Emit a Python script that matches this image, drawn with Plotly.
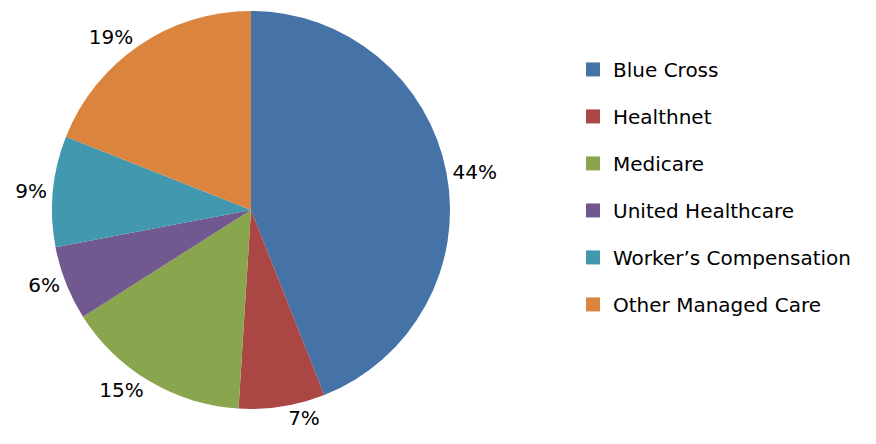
import plotly.graph_objects as go

labels = ["Blue Cross", "Healthnet", "Medicare", "United Healthcare",
          "Worker\u2019s Compensation", "Other Managed Care"]
values = [44, 7, 15, 6, 9, 19]
colors = ["#4572A7", "#AA4643", "#89A54E", "#71588F", "#4198AF", "#DB843D"]

FONT = "DejaVu Sans"

fig = go.Figure()
fig.add_trace(go.Pie(
    labels=labels, values=values, sort=False, direction="clockwise", rotation=0,
    marker=dict(colors=colors, line=dict(width=0)),
    textinfo="percent", texttemplate="%{percent:.0%}",
    textposition="outside",
    textfont=dict(family=FONT, size=20, color="#000000"),
    showlegend=False, hoverinfo="label+percent",
    domain=dict(x=[44 / 876, 442 / 876], y=[1 - 401 / 444, 1 - 3 / 444]),
))
for lab, col in zip(labels, colors):
    fig.add_trace(go.Scatter(
        x=[None], y=[None], mode="markers", name=lab, legendgroup=lab,
        marker=dict(symbol="square", size=14, color=col),
        showlegend=True,
    ))

fig.update_layout(
    width=876, height=444,
    margin=dict(l=0, r=0, t=0, b=0, autoexpand=False),
    paper_bgcolor="white", plot_bgcolor="white",
    xaxis=dict(visible=False), yaxis=dict(visible=False),
    legend=dict(x=0.645, y=0.597, xanchor="left", yanchor="middle",
                font=dict(family=FONT, size=20, color="#000000"),
                tracegroupgap=18, itemsizing="trace"),
    font=dict(family=FONT),
)
fig.write_html("out.html")
